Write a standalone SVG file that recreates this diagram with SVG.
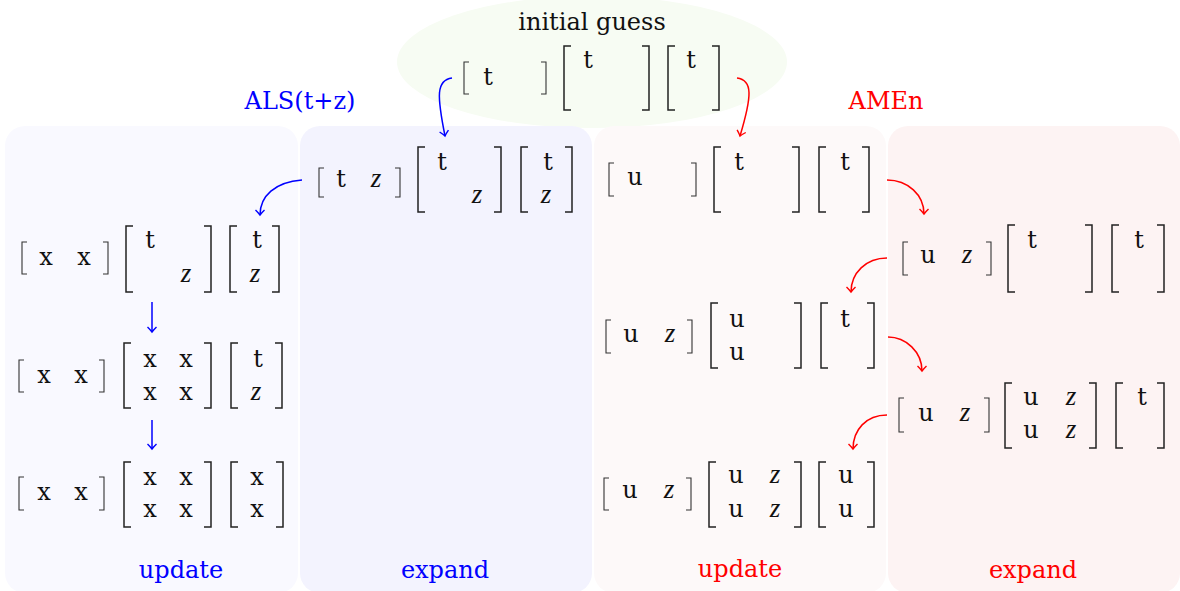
<svg xmlns="http://www.w3.org/2000/svg" width="1180" height="591" viewBox="0 0 1180 591">
<style>
text{font-family:"DejaVu Serif","Liberation Serif",serif;font-size:24px;fill:#111;text-anchor:middle}
.z{font-family:"Liberation Serif","DejaVu Serif",serif;font-style:italic;font-size:27px}
.blue{fill:#0000ff}
.red{fill:#ff0000}
.bs{fill:none;stroke:#333;stroke-width:1.1}
.bb{fill:none;stroke:#222;stroke-width:1.5}
.cb{fill:none;stroke:#0000ff;stroke-width:1.5;marker-end:url(#ab)}
.cr{fill:none;stroke:#ff0000;stroke-width:1.5;marker-end:url(#ar)}
</style>
<defs>
<marker id="ab" viewBox="-7 -6 9 12" markerWidth="9" markerHeight="12" refX="0" refY="0" orient="auto" markerUnits="userSpaceOnUse"><path d="M-5,-4.5 Q-1.5,-1 0,0 Q-1.5,1 -5,4.5" fill="none" stroke="#0000ff" stroke-width="1.4"/></marker>
<marker id="ar" viewBox="-7 -6 9 12" markerWidth="9" markerHeight="12" refX="0" refY="0" orient="auto" markerUnits="userSpaceOnUse"><path d="M-5,-4.5 Q-1.5,-1 0,0 Q-1.5,1 -5,4.5" fill="none" stroke="#ff0000" stroke-width="1.4"/></marker>
</defs>
<rect width="1180" height="591" fill="#ffffff"/>
<ellipse id="init-bg" cx="592" cy="62" rx="195" ry="66" fill="#f7fcf3"/>
<g id="panels">
<rect id="p1" x="5" y="126" width="293" height="467" rx="20" fill="#f9f9ff"/>
<rect id="p2" x="300" y="126" width="292" height="467" rx="20" fill="#f3f3fe"/>
<rect id="p3" x="594" y="126" width="292" height="467" rx="20" fill="#fdf9f9"/>
<rect id="p4" x="888" y="126" width="292" height="467" rx="20" fill="#fdf3f3"/>
</g>
<g id="labels">
<text x="592" y="30">initial guess</text>
<text class="blue" x="300" y="109">ALS(t+z)</text>
<text class="red" x="886" y="109">AMEn</text>
<text class="blue" x="181" y="578">update</text>
<text class="blue" x="445" y="578">expand</text>
<text class="red" x="740" y="577">update</text>
<text class="red" x="1033" y="578">expand</text>
</g>
<g id="init">
<path class="bs" d="M469,62H464V94H469M541,62H546V94H541"/>
<path class="bb" d="M571,46H564V110H571M642,46H649V110H642M675,46H668V110H675M712,46H719V110H712"/>
<text x="488" y="85">t</text>
<text x="588" y="68">t</text>
<text x="691" y="68">t</text>
</g>
<g id="p2-row">
<path class="bs" d="M324,168H319V197H324M395,168H400V197H395"/>
<path class="bb" d="M425,147H418V212H425M494,147H501V212H494M528,147H521V212H528M565,147H572V212H565"/>
<text x="341" y="187">t</text><text class="z" x="376" y="187">z</text>
<text x="442" y="170">t</text><text class="z" x="477" y="203">z</text>
<text x="548" y="170">t</text><text class="z" x="546" y="203">z</text>
</g>
<g id="p1-row1">
<path class="bs" d="M27,242H22V274H27M103,242H108V274H103"/>
<path class="bb" d="M133,226H126V292H133M204,226H211V292H204M237,226H230V292H237M272,226H279V292H272"/>
<text x="46" y="265">x</text><text x="84" y="265">x</text>
<text x="150" y="248">t</text><text class="z" x="186" y="282">z</text>
<text x="257" y="248">t</text><text class="z" x="255" y="282">z</text>
</g>
<g id="p1-row2">
<path class="bs" d="M24,360H19V392H24M99,360H104V392H99"/>
<path class="bb" d="M131,343H124V408H131M204,343H211V408H204M238,343H231V408H238M275,343H282V408H275"/>
<text x="44" y="383">x</text><text x="81" y="383">x</text>
<text x="150" y="367">x</text><text x="186" y="367">x</text>
<text x="150" y="400">x</text><text x="186" y="400">x</text>
<text x="258" y="367">t</text><text class="z" x="256" y="400">z</text>
</g>
<g id="p1-row3">
<path class="bs" d="M24,477H19V510H24M99,477H104V510H99"/>
<path class="bb" d="M131,462H124V527H131M204,462H211V527H204M238,462H231V527H238M276,462H283V527H276"/>
<text x="44" y="500">x</text><text x="81" y="500">x</text>
<text x="150" y="485">x</text><text x="186" y="485">x</text>
<text x="150" y="517">x</text><text x="186" y="517">x</text>
<text x="257" y="485">x</text><text x="257" y="517">x</text>
</g>
<g id="p3-row1">
<path class="bs" d="M614,163H609V196H614M691,163H696V196H691"/>
<path class="bb" d="M721,147H714V212H721M792,147H799V212H792M826,147H819V212H826M862,147H869V212H862"/>
<text x="635" y="185">u</text>
<text x="739" y="170">t</text>
<text x="845" y="170">t</text>
</g>
<g id="p3-row2">
<path class="bs" d="M611,320H606V353H611M687,320H692V353H687"/>
<path class="bb" d="M718,303H711V368H718M794,303H801V368H794M828,303H821V368H828M867,303H874V368H867"/>
<text x="631" y="342">u</text><text class="z" x="670" y="342">z</text>
<text x="737" y="327">u</text><text x="737" y="360">u</text>
<text x="845" y="327">t</text>
</g>
<g id="p3-row3">
<path class="bs" d="M609,478H604V510H609M686,478H691V510H686"/>
<path class="bb" d="M716,462H709V527H716M794,462H801V527H794M826,462H819V527H826M867,462H874V527H867"/>
<text x="630" y="498">u</text><text class="z" x="669" y="498">z</text>
<text x="736" y="483">u</text><text class="z" x="775" y="483">z</text>
<text x="736" y="517">u</text><text class="z" x="775" y="517">z</text>
<text x="846" y="483">u</text><text x="846" y="517">u</text>
</g>
<g id="p4-row1">
<path class="bs" d="M908,242H903V275H908M986,242H991V275H986"/>
<path class="bb" d="M1015,225H1008V292H1015M1085,225H1092V292H1085M1119,225H1112V292H1119M1157,225H1164V292H1157"/>
<text x="928" y="263">u</text><text class="z" x="967" y="263">z</text>
<text x="1032" y="248">t</text>
<text x="1139" y="248">t</text>
</g>
<g id="p4-row2">
<path class="bs" d="M904,398H899V432H904M984,398H989V432H984"/>
<path class="bb" d="M1012,383H1005V448H1012M1089,383H1096V448H1089M1123,383H1116V448H1123M1157,383H1164V448H1157"/>
<text x="926" y="421">u</text><text class="z" x="965" y="421">z</text>
<text x="1031" y="405">u</text><text class="z" x="1071" y="405">z</text>
<text x="1031" y="438">u</text><text class="z" x="1071" y="438">z</text>
<text x="1142" y="405">t</text>
</g>
<g id="connectors">
<path class="cb" d="M452,78 C436,80 437,96 445,136"/>
<path class="cr" d="M737,78 C753,80 752,96 740,136"/>
<path class="cb" d="M302,180 C275,182 260,196 260,215"/>
<path class="cb" d="M152,302 L152,332"/>
<path class="cb" d="M152,420 L152,449"/>
<path class="cr" d="M887,180 C908,180 924,195 924,214"/>
<path class="cr" d="M887,258 C866,258 851,273 851,292"/>
<path class="cr" d="M888,337 C906,337 922,352 922,371"/>
<path class="cr" d="M887,415 C866,415 853,430 853,449"/>
</g>
</svg>
